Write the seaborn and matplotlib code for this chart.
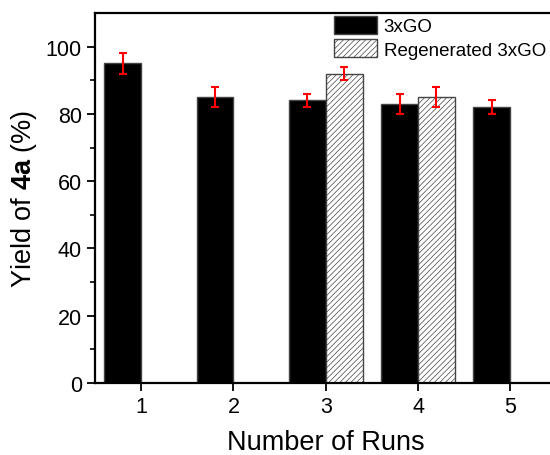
import matplotlib
matplotlib.use("Agg")
import matplotlib.pyplot as plt
from matplotlib.patches import Patch
import seaborn as sns
import pandas as pd

runs = ["1", "2", "3", "4", "5"]
go_yield = [95, 85, 84, 83, 82]
go_err = [3, 3, 2, 3, 2]
regen_runs = ["3", "4"]
regen_yield = [92, 85]
regen_err = [2, 3]
series = ["3xGO", "Regenerated 3xGO"]

df = pd.DataFrame({
    "run": runs + regen_runs,
    "yield": go_yield + regen_yield,
    "series": [series[0]] * len(runs) + [series[1]] * len(regen_runs),
})

sns.set_style("ticks")
plt.rcParams["font.family"] = ["Liberation Sans", "DejaVu Sans"]
plt.rcParams["mathtext.fontset"] = "custom"
plt.rcParams["mathtext.rm"] = "Liberation Sans"
plt.rcParams["mathtext.bf"] = "Liberation Sans:bold"
plt.rcParams["hatch.linewidth"] = 0.5
plt.rcParams["hatch.color"] = "#555555"
plt.rcParams["text.color"] = "black"
plt.rcParams["axes.labelcolor"] = "black"

fig = plt.figure(figsize=(5.5, 4.56), dpi=100)
ax = fig.add_axes([0.1727, 0.1579, 0.839, 0.8114])

sns.barplot(data=df, x="run", y="yield", hue="series", order=runs,
            hue_order=series, palette={series[0]: "black", series[1]: "white"},
            width=0.8, dodge=True, errorbar=None, ax=ax, legend=False,
            edgecolor="#444444", linewidth=1.0)

for p in ax.patches:
    if p.get_facecolor()[0] > 0.5:
        p.set_hatch("//////")
        p.set_edgecolor("#444444")

xpos = {r: i for i, r in enumerate(runs)}
ax.errorbar([xpos[r] - 0.2 for r in runs], go_yield, yerr=go_err, fmt="none",
            ecolor="red", elinewidth=1.5, capsize=3, capthick=1.5, zorder=5)
ax.errorbar([xpos[r] + 0.2 for r in regen_runs], regen_yield, yerr=regen_err,
            fmt="none", ecolor="red", elinewidth=1.5, capsize=3, capthick=1.5, zorder=5)

ax.set_xlim(-0.5, 4.5)
ax.set_ylim(0, 110)
ax.set_yticks([0, 20, 40, 60, 80, 100])
ax.set_yticks([10, 30, 50, 70, 90], minor=True)
ax.tick_params(axis="both", which="major", direction="out", length=6, width=1.3,
               labelsize=15.5, color="black", labelcolor="black", pad=3.5)
ax.tick_params(axis="y", which="minor", direction="out", length=3.5, width=1.2,
               color="black")
ax.tick_params(top=False, right=False)
for s in ax.spines.values():
    s.set_visible(True)
    s.set_linewidth(1.6)
    s.set_color("black")

ax.set_xlabel("Number of Runs", fontsize=19.5, labelpad=8.5, color="black")
ax.set_ylabel(r"Yield of $\mathbf{4a}$ (%)", fontsize=19.5, labelpad=5, color="black")

handles = [Patch(facecolor="black", edgecolor="#444444", label=series[0]),
           Patch(facecolor="white", edgecolor="#444444", hatch="//////", label=series[1])]
ax.legend(handles=handles, loc="upper left", bbox_to_anchor=(0.512, 1.0),
          frameon=False, fontsize=13.5, handlelength=2.3, handleheight=1.12,
          handletextpad=0.35, labelspacing=0.2, borderpad=0.15, borderaxespad=0.0)

fig.savefig("out.png", dpi=100)
